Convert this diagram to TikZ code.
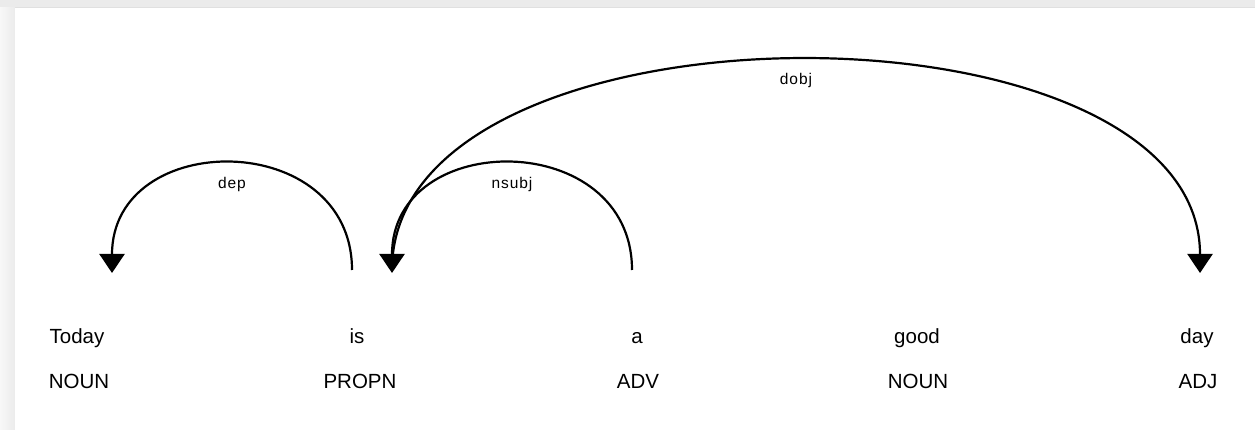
\documentclass[tikz,border=0pt]{standalone}
\usepackage{fontspec}
\setmainfont{Liberation Sans}
\newfontfamily\arclabelfont[LetterSpace=6]{Liberation Sans}
\usetikzlibrary{arrows.meta,positioning,calc}
\definecolor{PanelGray}{RGB}{235,235,235}
\definecolor{PanelEdge}{RGB}{224,224,224}
\definecolor{PanelLight}{RGB}{248,248,248}

\begin{document}
\begin{tikzpicture}[
  x=1pt, y=-1pt, % one unit per pixel, y pointing down
  word/.style={anchor=base, inner sep=0pt, font=\fontsize{20.5}{24}\selectfont},
  tag/.style={anchor=base, inner sep=0pt, font=\fontsize{20.5}{24}\selectfont},
  arc/.style={line width=2.2pt, draw=black, -{Triangle[width=25pt,length=19pt]}},
  arclabel/.style={inner sep=0pt, font=\arclabelfont\fontsize{15.5}{18}\selectfont}
]
\useasboundingbox (0,0) rectangle (1255,430);

% --- Panel background ---
\fill[PanelGray] (0,0) rectangle (1255,8);
\draw[PanelEdge, line width=1pt] (15,7.5) -- (1255,7.5);
\shade[left color=PanelLight, right color=PanelGray] (0,8) rectangle (15,430);
\fill[white] (15,8) rectangle (1255,430);

% --- Words ---
\node[word] (today) at (77,343) {Today};
\node[word] (is)    at (357,343) {is};
\node[word] (a)     at (637,343) {a};
\node[word] (good)  at (917,343) {good};
\node[word] (day)   at (1197,343) {day};

% --- Tags ---
\node[tag] (todayTag) at (79,388) {NOUN};
\node[tag] (isTag)    at (360,388) {PROPN};
\node[tag] (aTag)     at (638,388) {ADV};
\node[tag] (goodTag)  at (918,388) {NOUN};
\node[tag] (dayTag)   at (1198,388) {ADJ};

% --- Arc end points ---
\coordinate (todayIn) at (112,273);
\coordinate (isOut)   at (352,270);
\coordinate (isIn)    at (392,273);
\coordinate (isStart) at (392,270);
\coordinate (aOut)    at (632,270);
\coordinate (dayIn)   at (1200,273);

% --- Arcs ---
\draw[arc] (isOut) .. controls +(0,-142) and +(0,-145) .. (todayIn)
  node[arclabel, midway, below=12pt] (depLabel) {dep};
\draw[arc] (aOut) .. controls +(0,-142) and +(0,-145) .. (isIn)
  node[arclabel, midway, below=12pt] (nsubjLabel) {nsubj};
\draw[arc] (isStart) .. controls +(0,-280) and +(0,-283) .. (dayIn)
  node[arclabel, midway, below=12pt] (dobjLabel) {dobj};

\end{tikzpicture}
\end{document}
